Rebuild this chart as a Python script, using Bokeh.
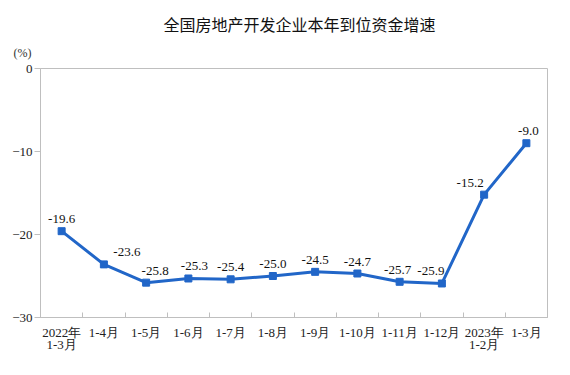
from bokeh.plotting import figure
from bokeh.models import Range1d, FixedTicker, ColumnDataSource, Title
from bokeh.core.properties import value
from bokeh.embed import file_html
from bokeh.resources import INLINE

categories = ["2022年\n1-3月", "1-4月", "1-5月", "1-6月", "1-7月", "1-8月", "1-9月",
              "1-10月", "1-11月", "1-12月", "2023年\n1-2月", "1-3月"]
growth = [-19.6, -23.6, -25.8, -25.3, -25.4, -25.0, -24.5, -24.7, -25.7, -25.9, -15.2, -9.0]
y_ticks = [0, -10, -20, -30]

# label placement tweaks (pixels) to mirror the reference
label_dx = [0, 23, 9, 6, 0, 0, 0, 0, -2, -11, -14, 2]

SERIF = "Liberation Serif"
BLUE = "#2166C8"
GRAY = "#bfbfbf"

xs = [i + 0.5 for i in range(len(growth))]
src = ColumnDataSource(dict(x=xs, y=growth, lab=["%.1f" % v for v in growth], dx=label_dx))

p = figure(width=554, height=360, output_backend="svg", toolbar_location=None,
           x_range=Range1d(0, len(growth)), y_range=Range1d(-30, 0),
           min_border_left=40, min_border_right=7, min_border_top=68, min_border_bottom=43)
p.outline_line_color = GRAY
p.outline_line_width = 1
p.grid.visible = False
p.background_fill_color = "white"
p.border_fill_color = "white"

# x axis
xa = p.xaxis[0]
xa.ticker = FixedTicker(ticks=xs, minor_ticks=list(range(len(growth) + 1)))
xa.major_label_overrides = {x: c for x, c in zip(xs, categories)}
xa.major_tick_in = 0
xa.major_tick_out = 0
xa.minor_tick_in = 5
xa.minor_tick_out = 0
xa.minor_tick_line_color = GRAY
xa.axis_line_color = GRAY
xa.major_label_text_font = SERIF
xa.major_label_text_font_size = "13px"
xa.major_label_text_color = "#222222"
xa.major_label_text_line_height = 0.85
xa.major_label_standoff = 7

# y axis
ya = p.yaxis[0]
ya.ticker = FixedTicker(ticks=y_ticks)
ya.major_tick_in = 0
ya.major_tick_out = 6
ya.minor_tick_line_color = None
ya.major_tick_line_color = GRAY
ya.axis_line_color = GRAY
ya.major_label_text_font = SERIF
ya.major_label_text_font_size = "13px"
ya.major_label_text_color = "#222222"
ya.major_label_standoff = 2

p.line("x", "y", source=src, line_color=BLUE, line_width=3)
p.scatter("x", "y", source=src, marker="square", size=7, fill_color=BLUE, line_color=BLUE)
p.text("x", "y", text="lab", source=src, x_offset="dx", y_offset=-12,
       text_align="center", text_baseline="middle",
       text_font=value("Liberation Serif"), text_font_size="13px", text_color="#111111")

unit = Title(text="(%)", align="left", offset=-27, text_font=SERIF,
             text_font_size="12px", text_font_style="normal", text_color="#333333",
             standoff=17)
p.add_layout(unit, "above")
title = Title(text="全国房地产开发企业本年到位资金增速", align="left", offset=123,
              text_font="Noto Sans CJK SC", text_font_size="16px",
              text_font_style="normal", text_color="#111111", standoff=0)
p.add_layout(title, "above")

open("out.html", "w").write(file_html(p, INLINE))
